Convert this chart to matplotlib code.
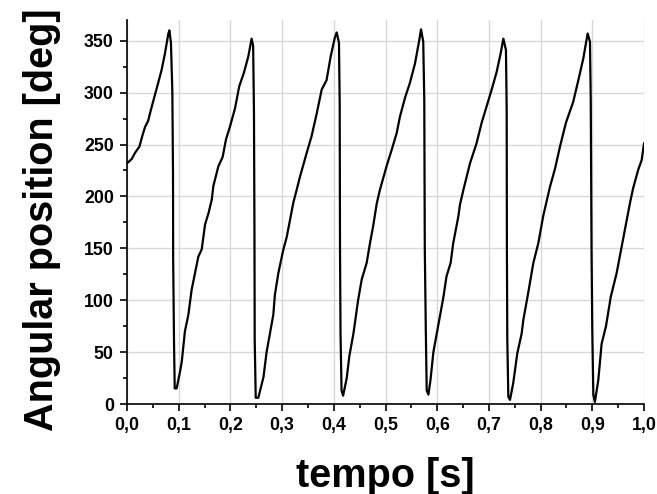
import matplotlib
matplotlib.use("Agg")
import matplotlib.pyplot as plt
from matplotlib.ticker import MultipleLocator, FixedLocator, FixedFormatter

# ---- data ----
tempo = [
    0.000, 0.0025, 0.009, 0.0155, 0.024, 0.030, 0.035, 0.041, 0.046, 0.052,
    0.059, 0.067, 0.0735, 0.080, 0.082, 0.085, 0.0877, 0.089, 0.0893, 0.091,
    0.0923, 0.096, 0.1025, 0.106, 0.112, 0.1187, 0.125, 0.1315, 0.138, 0.1445,
    0.151, 0.1577, 0.164, 0.167, 0.1767, 0.185, 0.1915, 0.199, 0.209, 0.217,
    0.226, 0.2347, 0.241, 0.244, 0.2456, 0.2465, 0.247, 0.249, 0.254, 0.264,
    0.270, 0.2766, 0.283, 0.286, 0.2927, 0.302, 0.309, 0.3166, 0.3217, 0.328,
    0.3346, 0.3476, 0.357, 0.367, 0.3766, 0.386, 0.394, 0.402, 0.4056, 0.410,
    0.4114, 0.412, 0.413, 0.415, 0.418, 0.425, 0.430, 0.438, 0.447, 0.454,
    0.4636, 0.470, 0.476, 0.483, 0.489, 0.502, 0.512, 0.5216, 0.528, 0.5377,
    0.547, 0.557, 0.5655, 0.5687, 0.573, 0.575, 0.576, 0.578, 0.5797, 0.583,
    0.587, 0.5926, 0.600, 0.612, 0.618, 0.626, 0.631, 0.641, 0.644, 0.6505,
    0.654, 0.6635, 0.676, 0.686, 0.6957, 0.7054, 0.715, 0.7228, 0.728, 0.733,
    0.7344, 0.7348, 0.7356, 0.7376, 0.7408, 0.747, 0.755, 0.7634, 0.7666, 0.776,
    0.786, 0.7956, 0.805, 0.818, 0.828, 0.8375, 0.849, 0.863, 0.873, 0.8826,
    0.891, 0.8955, 0.897, 0.8985, 0.900, 0.902, 0.905, 0.9116, 0.918, 0.9265,
    0.9356, 0.947, 0.957, 0.9665, 0.973, 0.979, 0.989, 0.9955, 1.000,
]
angle = [
    232, 233, 236, 242, 248, 259, 267, 273, 283, 294,
    307, 322, 338, 357, 360, 348, 301, 221, 139, 57,
    15, 15, 31, 41, 70, 86, 110, 126, 142, 149,
    173, 184, 197, 210, 229, 238, 255, 267, 285, 306,
    319, 335, 352, 345, 280, 170, 62, 6, 6, 26,
    50, 68, 86, 105, 126, 148, 161, 181, 194, 206,
    219, 242, 258, 280, 303, 312, 335, 353, 358, 348,
    290, 150, 68, 13, 8, 25, 46, 68, 100, 120,
    136, 155, 171, 193, 206, 229, 245, 261, 277, 295,
    309, 328, 351, 361, 349, 293, 150, 70, 13, 9,
    23, 50, 70, 103, 123, 136, 155, 181, 192, 206,
    213, 232, 251, 271, 287, 303, 320, 338, 352, 341,
    283, 150, 62, 7, 4, 20, 49, 68, 81, 107,
    136, 155, 181, 209, 227, 248, 271, 291, 312, 333,
    357, 349, 293, 150, 70, 9, 2, 23, 58, 75,
    103, 126, 152, 177, 194, 208, 226, 235, 251,
]

x_ticks = [0.0, 0.1, 0.2, 0.3, 0.4, 0.5, 0.6, 0.7, 0.8, 0.9, 1.0]
x_tick_labels = ["0,0", "0,1", "0,2", "0,3", "0,4", "0,5", "0,6", "0,7", "0,8", "0,9", "1,0"]
y_ticks = [0, 50, 100, 150, 200, 250, 300, 350]
x_label = "tempo [s]"
y_label = "Angular position [deg]"

# ---- figure ----
plt.rcParams['font.family'] = ['Liberation Sans', 'DejaVu Sans']
plt.rcParams['font.weight'] = 'bold'

fig = plt.figure(figsize=(6.57, 4.94), dpi=100)
ax = fig.add_axes([127/657, (494-404)/494, (644-127)/657, (404-20)/494])

ax.plot(tempo, angle, color='black', linewidth=1.6, solid_joinstyle='round')

ax.set_xlim(0, 1.0)
ax.set_ylim(0, 370)

ax.xaxis.set_major_locator(FixedLocator(x_ticks))
ax.xaxis.set_major_formatter(FixedFormatter(x_tick_labels))
ax.xaxis.set_minor_locator(MultipleLocator(0.05))
ax.yaxis.set_major_locator(FixedLocator(y_ticks))
ax.yaxis.set_minor_locator(MultipleLocator(25))

ax.grid(True, which='major', color='#d8d8d8', linewidth=1.0)
ax.set_axisbelow(True)

for s in ['top', 'right']:
    ax.spines[s].set_visible(False)
for s in ['left', 'bottom']:
    ax.spines[s].set_linewidth(1.2)
    ax.spines[s].set_color('black')

ax.tick_params(which='major', direction='out', length=5, width=1.2,
               labelsize=12.8)
ax.tick_params(axis='y', which='major', pad=4.5)
ax.tick_params(axis='x', which='major', pad=4)
ax.tick_params(which='minor', direction='out', length=2.6, width=1.2)
for lab in ax.get_xticklabels() + ax.get_yticklabels():
    lab.set_fontweight('bold')

ax.set_xlabel(x_label, fontsize=28.5, fontweight='bold')
ax.set_ylabel(y_label, fontsize=28.5, fontweight='bold')
ax.xaxis.set_label_coords(0.5, -0.138)
ax.yaxis.set_label_coords(-0.127, 0.479)

fig.savefig("out.png", dpi=100)
